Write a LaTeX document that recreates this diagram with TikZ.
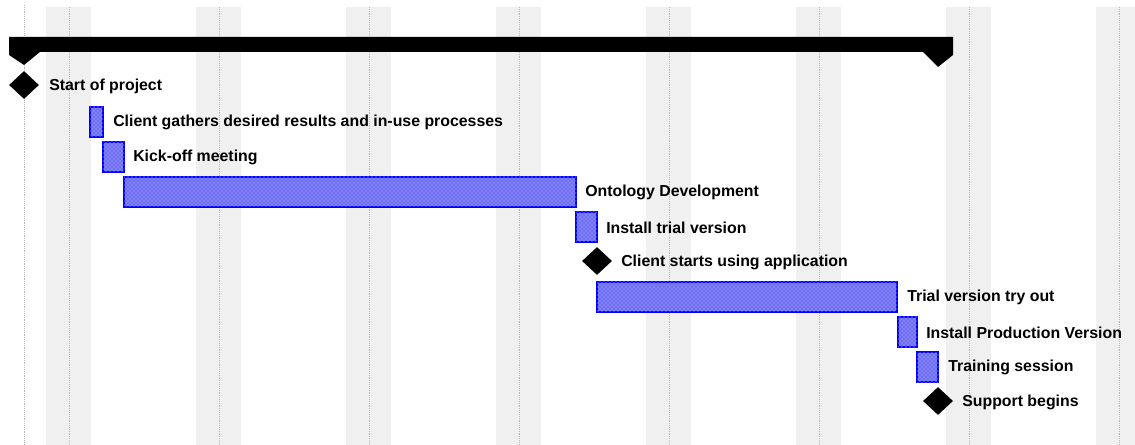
\documentclass[tikz,border=0pt]{standalone}
\usepackage{fontspec}
\setmainfont{Liberation Sans}
\usetikzlibrary{shapes.geometric,patterns}

\definecolor{barblue}{RGB}{108,108,244}
\definecolor{bandgray}{RGB}{240,240,240}

\tikzset{
  band/.style={fill=bandgray, draw=none},
  bandline/.style={gray!55, densely dotted},
  task/.style={fill=barblue, draw=blue, line width=1.2pt,
    postaction={pattern=crosshatch dots, pattern color=white!70!barblue}},
  milestone/.style={diamond, fill=black, inner sep=0pt,
    minimum width=22.5pt, minimum height=21pt},
  tasklabel/.style={anchor=west, inner sep=0pt, yshift=-1pt,
    font=\fontsize{11.9}{14}\selectfont\bfseries}
}

\begin{document}
\begin{tikzpicture}[x=0.75pt, y=-0.75pt]
    \useasboundingbox (0, 0) rectangle (1135, 445);

    % Time grid
    \foreach \k in {0, ..., 7} {
      \fill [band] (46 + 150*\k, 7) rectangle ++(45, 438);
      \draw [bandline] (69 + 150*\k, 7) -- (69 + 150*\k, 445);
    }
    \draw [bandline] (24, 5) -- (24, 445);

    % Summary bar
    \fill (9, 37) -- (953, 37) -- (953, 55) -- (938, 67) -- (923, 52)
          -- (40, 52) -- (24, 65) -- (9, 55) -- cycle;

    % Start of project
    \node [milestone] (start) at (24, 85) {};
    \node [tasklabel] (startlbl) at (49, 85) {Start of project};

    % Client gathers
    \draw [task] (90, 107) rectangle (103, 137);
    \node [tasklabel] (gather) at (113, 121) {Client gathers desired results and in-use processes};

    % Kick-off
    \draw [task] (103, 142) rectangle (124, 172);
    \node [tasklabel] (kickoff) at (133, 156) {Kick-off meeting};

    % Ontology
    \draw [task] (124, 177) rectangle (576, 207);
    \node [tasklabel] (ontology) at (585, 191) {Ontology Development};

    % Trial install
    \draw [task] (576, 212) rectangle (597, 242);
    \node [tasklabel] (trial) at (606, 226) {Install trial version};

    % Client starts
    \node [milestone] (clientstart) at (597, 261) {};
    \node [tasklabel] (clientlbl) at (621, 261) {Client starts using application};

    % Try out
    \draw [task] (597, 282) rectangle (897, 312);
    \node [tasklabel] (tryout) at (907, 296) {Trial version try out};

    % Production install
    \draw [task] (898, 317) rectangle (917, 347);
    \node [tasklabel] (prod) at (926, 331) {Install Production Version};

    % Training
    \draw [task] (917, 352) rectangle (938, 382);
    \node [tasklabel] (training) at (948, 366) {Training session};

    % Support
    \node [milestone] (support) at (938, 401) {};
    \node [tasklabel] (supportlbl) at (962, 401) {Support begins};
\end{tikzpicture}
\end{document}
